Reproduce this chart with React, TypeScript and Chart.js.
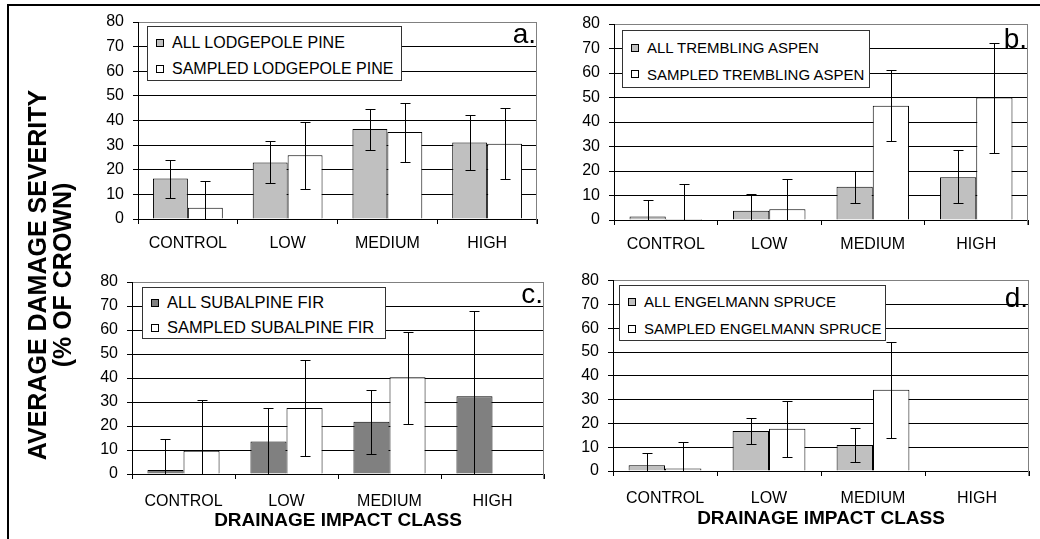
import React, { useEffect, useRef } from 'react';
import { Chart, registerables } from 'chart.js';

Chart.register(...registerables);

// ---------- data ----------
const categories = ['CONTROL', 'LOW', 'MEDIUM', 'HIGH'];
const yMin = 0;
const yMax = 80;
const yStep = 10;

// a. Lodgepole pine
const pineLabels = ['ALL LODGEPOLE PINE', 'SAMPLED LODGEPOLE PINE'];
const pineAll = [16.4, 22.9, 36.5, 31.1];
const pineAllHi = [24.1, 31.5, 44.6, 42.2];
const pineAllLo = [8.7, 14.8, 28.2, 20.1];
const pineSampled = [4.6, 25.9, 35.3, 30.6];
const pineSampledHi = [15.6, 39.3, 47.1, 45.0];
const pineSampledLo = [-6.4, 12.2, 23.3, 16.3];

// b. Trembling aspen
const aspenLabels = ['ALL TREMBLING ASPEN', 'SAMPLED TREMBLING ASPEN'];
const aspenAll = [1.4, 3.8, 13.6, 17.4];
const aspenAllHi = [8.2, 10.5, 20.2, 28.6];
const aspenAllLo = [-5.4, -2.9, 7.0, 7.0];
const aspenSampled = [0.4, 4.4, 46.6, 50.0];
const aspenSampledHi = [14.6, 16.6, 61.1, 72.2];
const aspenSampledLo = [-13.8, -7.8, 32.4, 27.3];

// c. Subalpine fir
const firLabels = ['ALL SUBALPINE FIR', 'SAMPLED SUBALPINE FIR'];
const firAll = [1.7, 13.5, 21.8, 32.4];
const firAllHi = [14.7, 27.6, 34.9, 67.8];
const firAllLo = [-11.3, -0.6, 8.2, -3.0];
const firSampled = [9.7, 27.5, 40.3, null];
const firSampledHi = [31.0, 47.6, 59.2, null];
const firSampledLo = [-11.6, 7.4, 20.8, null];

// d. Engelmann spruce
const spruceLabels = ['ALL ENGELMANN SPRUCE', 'SAMPLED ENGELMANN SPRUCE'];
const spruceAll = [2.4, 16.8, 10.9, null];
const spruceAllHi = [7.4, 22.3, 18.2, null];
const spruceAllLo = [-2.6, 11.3, 3.8, null];
const spruceSampled = [1.0, 17.8, 34.1, null];
const spruceSampledHi = [12.1, 29.6, 54.3, null];
const spruceSampledLo = [-10.1, 6.0, 13.9, null];

const yTitle = ['AVERAGE DAMAGE SEVERITY', '(% OF CROWN)'];
const xTitle = 'DRAINAGE IMPACT CLASS';

// ---------- styles ----------
const FONT = '"Liberation Sans", Arial, Helvetica, sans-serif';
const LIGHT = '#c0c0c0';
const DARK = '#808080';

const errorBarPlugin = {
  id: 'errorBars',
  afterDatasetsDraw(chart: any) {
    const { ctx, chartArea } = chart;
    const ys = chart.scales.y;
    ctx.save();
    ctx.beginPath();
    ctx.rect(chartArea.left, chartArea.top - 1, chartArea.right - chartArea.left, chartArea.bottom - chartArea.top + 1);
    ctx.clip();
    ctx.strokeStyle = '#000';
    ctx.lineWidth = 1;
    chart.data.datasets.forEach((ds: any, i: number) => {
      const meta = chart.getDatasetMeta(i);
      meta.data.forEach((el: any, j: number) => {
        const hi = ds.errHi[j];
        const lo = ds.errLo[j];
        if (hi == null || lo == null || ds.data[j] == null) return;
        const x = Math.round(el.x) + 0.5;
        const yh = Math.round(ys.getPixelForValue(hi)) + 0.5;
        const yl = Math.round(ys.getPixelForValue(lo)) + 0.5;
        ctx.beginPath();
        ctx.moveTo(x, yh);
        ctx.lineTo(x, yl);
        ctx.moveTo(x - 5, yh);
        ctx.lineTo(x + 5, yh);
        ctx.moveTo(x - 5, yl);
        ctx.lineTo(x + 5, yl);
        ctx.stroke();
      });
    });
    ctx.restore();
  },
};

const framePlugin = {
  id: 'frame',
  beforeDatasetsDraw(chart: any) {
    const { ctx, chartArea: a } = chart;
    ctx.save();
    ctx.strokeStyle = '#808080';
    ctx.lineWidth = 1;
    const x = Math.round(a.right) - 0.5;
    ctx.beginPath();
    ctx.moveTo(x, a.top);
    ctx.lineTo(x, a.bottom + 5);
    ctx.stroke();
    ctx.restore();
  },
  afterDraw(chart: any, _args: any, opts: any) {
    const { ctx, chartArea: a } = chart;
    ctx.save();
    ctx.fillStyle = '#000';
    ctx.font = `${opts.size}px ${FONT}`;
    ctx.textAlign = 'right';
    ctx.textBaseline = 'alphabetic';
    ctx.fillText(opts.letter, a.right - 1, a.top + opts.base);
    ctx.restore();
  },
};

type PanelCfg = {
  letter: string;
  letterSize: number;
  letterBase: number;
  labels: string[];
  all: (number | null)[];
  allHi: (number | null)[];
  allLo: (number | null)[];
  sampled: (number | null)[];
  sampledHi: (number | null)[];
  sampledLo: (number | null)[];
  allColor: string;
  left: number;
  top: number;
  w: number;
  h: number;
  yw: number;
  pt: number;
  pr: number;
  xh: number;
  showXTitle: boolean;
  titlePad: number;
  tickSize: number;
  xPad: number;
  legend: { left: number; top: number; w: number; h: number; rows: number[]; size: number };
};

const panels: PanelCfg[] = [
  {
    letter: 'a.', letterSize: 28, letterBase: 21,
    labels: pineLabels, all: pineAll, allHi: pineAllHi, allLo: pineAllLo,
    sampled: pineSampled, sampledHi: pineSampledHi, sampledLo: pineSampledLo,
    allColor: LIGHT,
    left: 80, top: 0, w: 470, h: 262, yw: 58, pt: 22, pr: 13, xh: 43,
    showXTitle: false, titlePad: 0, tickSize: 16, xPad: 10,
    legend: { left: 147, top: 26, w: 255, h: 55, rows: [15.7, 42], size: 16 },
  },
  {
    letter: 'b.', letterSize: 28, letterBase: 24,
    labels: aspenLabels, all: aspenAll, allHi: aspenAllHi, allLo: aspenAllLo,
    sampled: aspenSampled, sampledHi: aspenSampledHi, sampledLo: aspenSampledLo,
    allColor: LIGHT,
    left: 556, top: 0, w: 484, h: 262, yw: 58, pt: 24, pr: 12, xh: 42,
    showXTitle: false, titlePad: 0, tickSize: 16, xPad: 10,
    legend: { left: 622, top: 30, w: 248, h: 58, rows: [16.7, 43.3], size: 15 },
  },
  {
    letter: 'c.', letterSize: 28, letterBase: 21,
    labels: firLabels, all: firAll, allHi: firAllHi, allLo: firAllLo,
    sampled: firSampled, sampledHi: firSampledHi, sampledLo: firSampledLo,
    allColor: DARK,
    left: 74, top: 262, w: 482, h: 277, yw: 58, pt: 20, pr: 12, xh: 65,
    showXTitle: true, titlePad: 7, tickSize: 16, xPad: 13,
    legend: { left: 142, top: 287, w: 244, h: 52, rows: [14.7, 39.7], size: 16.5 },
  },
  {
    letter: 'd.', letterSize: 28, letterBase: 26,
    labels: spruceLabels, all: spruceAll, allHi: spruceAllHi, allLo: spruceAllLo,
    sampled: spruceSampled, sampledHi: spruceSampledHi, sampledLo: spruceSampledLo,
    allColor: LIGHT,
    left: 555, top: 262, w: 485, h: 277, yw: 58, pt: 17, pr: 11, xh: 68,
    showXTitle: true, titlePad: 9, tickSize: 16, xPad: 13,
    legend: { left: 619, top: 285, w: 267, h: 56, rows: [15.7, 42.7], size: 15 },
  },
];

function Panel({ cfg }: { cfg: PanelCfg }) {
  const ref = useRef<HTMLCanvasElement>(null);
  useEffect(() => {
    const c = cfg;
    const chart = new Chart(ref.current as HTMLCanvasElement, {
      type: 'bar',
      data: {
        labels: categories,
        datasets: [
          {
            label: c.labels[0],
            data: c.all,
            backgroundColor: c.allColor,
            borderColor: '#000',
            borderWidth: 1,
            errHi: c.allHi,
            errLo: c.allLo,
          } as any,
          {
            label: c.labels[1],
            data: c.sampled,
            backgroundColor: '#ffffff',
            borderColor: '#000',
            borderWidth: 1,
            errHi: c.sampledHi,
            errLo: c.sampledLo,
          } as any,
        ],
      },
      options: {
        responsive: false,
        animation: false,
        devicePixelRatio: 1,
        layout: { padding: { top: c.pt, right: c.pr, left: 0, bottom: 0 } },
        datasets: { bar: { categoryPercentage: 0.7, barPercentage: 1.0 } },
        plugins: {
          legend: { display: false },
          tooltip: { enabled: false },
          frame: { letter: c.letter, size: c.letterSize, base: c.letterBase },
        } as any,
        scales: {
          x: {
            offset: true,
            grid: {
              display: true,
              drawOnChartArea: false,
              drawTicks: true,
              tickLength: 5,
              color: '#000',
              offset: true,
            },
            border: { display: true, color: '#000', width: 1 },
            ticks: {
              color: '#000',
              font: { family: FONT, size: c.tickSize },
              padding: c.xPad,
              maxRotation: 0,
              autoSkip: false,
            },
            title: {
              display: c.showXTitle,
              text: xTitle,
              color: '#000',
              font: { family: FONT, size: 19, weight: 'bold' },
              padding: { top: 0, bottom: c.titlePad },
            },
            afterFit: (s: any) => {
              s.height = c.xh;
            },
          },
          y: {
            min: yMin,
            max: yMax,
            grid: {
              color: (ctx: any) => (ctx.tick && ctx.tick.value === yMax ? '#808080' : '#000'),
              tickColor: '#000',
              tickLength: 5,
              drawTicks: true,
            },
            border: { display: true, color: '#000', width: 1 },
            ticks: {
              stepSize: yStep,
              color: '#000',
              font: { family: FONT, size: c.tickSize },
              padding: 9,
            },
            afterFit: (s: any) => {
              s.width = c.yw;
            },
          },
        },
      } as any,
      plugins: [errorBarPlugin, framePlugin],
    });
    return () => chart.destroy();
  }, [cfg]);
  return (
    <canvas
      ref={ref}
      width={cfg.w}
      height={cfg.h}
      style={{ position: 'absolute', left: cfg.left, top: cfg.top, width: cfg.w, height: cfg.h }}
    />
  );
}

function Legend({ cfg }: { cfg: PanelCfg }) {
  const L = cfg.legend;
  const colors = [cfg.allColor, '#ffffff'];
  return (
    <div
      style={{
        position: 'absolute',
        left: L.left,
        top: L.top,
        width: L.w,
        height: L.h,
        boxSizing: 'border-box',
        border: '1px solid #333',
        background: '#fff',
        fontFamily: FONT,
        fontSize: L.size,
        color: '#000',
      }}
    >
      {cfg.labels.map((lab, i) => (
        <div
          key={lab}
          style={{
            position: 'absolute',
            left: 0,
            top: L.rows[i] - 11,
            height: 22,
            display: 'flex',
            alignItems: 'center',
            whiteSpace: 'nowrap',
          }}
        >
          <span
            style={{
              display: 'inline-block',
              boxSizing: 'border-box',
              width: 8,
              height: 8,
              marginLeft: 8,
              marginRight: 8,
              border: '1px solid #000',
              background: colors[i],
            }}
          />
          <span>{lab}</span>
        </div>
      ))}
    </div>
  );
}

export default function App() {
  return (
    <div
      style={{
        position: 'absolute',
        left: 0,
        top: 0,
        width: 1040,
        height: 539,
        overflow: 'hidden',
        background: '#fff',
      }}
    >
      <div
        style={{
          position: 'absolute',
          left: 7,
          top: 4,
          width: 1100,
          height: 600,
          borderTop: '2px solid #000',
          borderLeft: '2px solid #000',
        }}
      />
      {panels.map((p) => (
        <Panel key={p.letter} cfg={p} />
      ))}
      {panels.map((p) => (
        <Legend key={'l' + p.letter} cfg={p} />
      ))}
      <div
        style={{
          position: 'absolute',
          left: 50 - 230,
          top: 275 - 25,
          width: 460,
          height: 50,
          transform: 'rotate(-90deg)',
          transformOrigin: 'center',
          textAlign: 'center',
          fontFamily: FONT,
          fontWeight: 'bold',
          fontSize: 25,
          lineHeight: '25px',
          color: '#000',
          whiteSpace: 'nowrap',
        }}
      >
        <div>{yTitle[0]}</div>
        <div>{yTitle[1]}</div>
      </div>
    </div>
  );
}
